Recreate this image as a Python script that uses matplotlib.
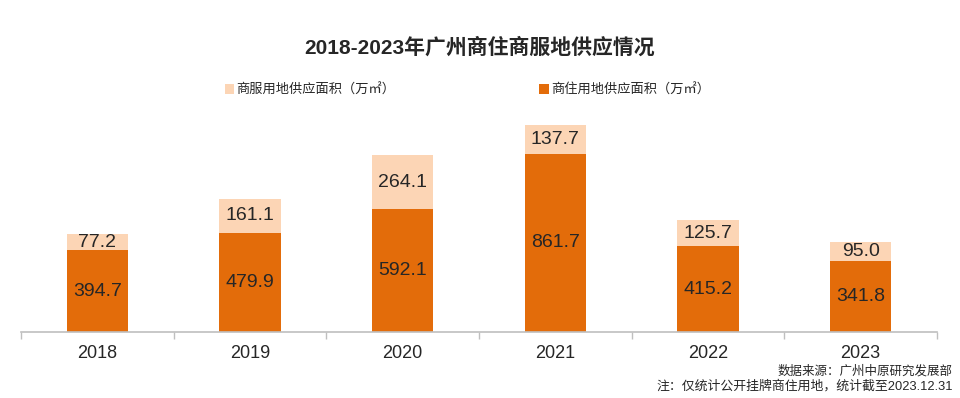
import matplotlib.pyplot as plt
import numpy as np

plt.rcParams['font.family'] = ['Liberation Sans', 'Noto Sans CJK SC', 'DejaVu Sans']

years = ['2018', '2019', '2020', '2021', '2022', '2023']
residential = [394.7, 479.9, 592.1, 861.7, 415.2, 341.8]   # 商住用地供应面积
commercial = [77.2, 161.1, 264.1, 137.7, 125.7, 95.0]      # 商服用地供应面积

dark = '#E36C0A'
light = '#FCD5B5'
txt = '#262626'

fig = plt.figure(figsize=(9.6, 3.98), dpi=100)
ax = fig.add_axes([21 / 960, 66 / 398, 916 / 960, 222 / 398])

x = np.arange(len(years))
b1 = ax.bar(x, residential, width=0.4, color=dark, zorder=2)
b2 = ax.bar(x, commercial, width=0.4, bottom=residential, color=light, zorder=2)

for i in range(len(years)):
    ax.text(x[i], residential[i] / 2, f'{residential[i]:.1f}', ha='center', va='center',
            fontsize=14, color=txt)
    ax.text(x[i], residential[i] + commercial[i] / 2, f'{commercial[i]:.1f}', ha='center',
            va='center', fontsize=14, color=txt)

ax.set_xlim(-0.5, len(years) - 0.5)
ax.set_ylim(0, 1072)
ax.set_xticks(x)
ax.set_xticklabels(years, fontsize=13, color=txt)
ax.set_xticks(np.arange(-0.5, len(years), 1), minor=True)
ax.tick_params(axis='x', which='major', length=0, pad=9)
ax.tick_params(axis='x', which='minor', length=5, color='#BFBFBF', width=1)
ax.set_yticks([])
for s in ['top', 'right', 'left']:
    ax.spines[s].set_visible(False)
ax.spines['bottom'].set_color('#BFBFBF')
ax.spines['bottom'].set_linewidth(1.2)

fig.text(0.5, 351 / 398, '2018-2023年广州商住商服地供应情况', ha='center', va='center',
         fontsize=15, fontweight='bold', color=txt)

fig.legend([b2, b1], ['商服用地供应面积（万㎡）', '商住用地供应面积（万㎡）'],
           loc='center', bbox_to_anchor=(0.487, 308 / 398), ncol=2, frameon=False,
           fontsize=9.5, handlelength=0.7, handleheight=0.7, handletextpad=0.2,
           columnspacing=10.9, labelcolor=txt)

fig.text(953 / 960, 27 / 398, '数据来源：广州中原研究发展部', ha='right', va='center',
         fontsize=9, color=txt)
fig.text(953 / 960, 12 / 398, '注：仅统计公开挂牌商住用地，统计截至2023.12.31', ha='right',
         va='center', fontsize=9.3, color=txt)

fig.savefig('out.png', dpi=100)
